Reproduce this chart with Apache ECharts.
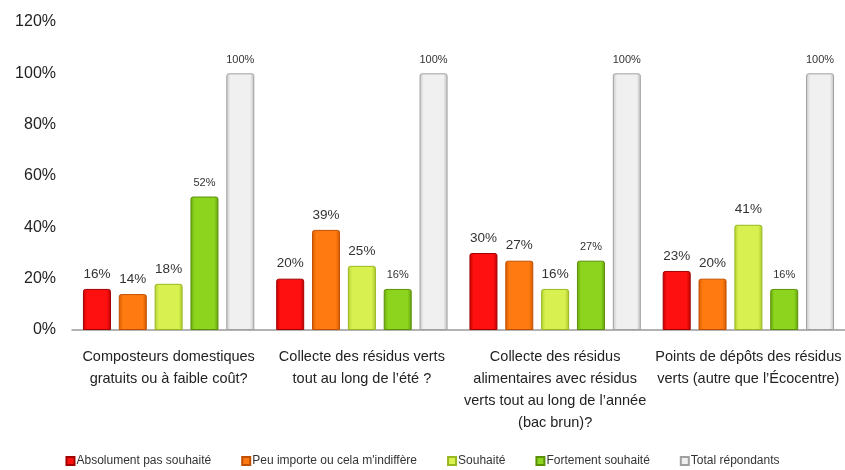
<!DOCTYPE html>
<html>
<head>
<meta charset="utf-8">
<script src="https://cdn.jsdelivr.net/npm/echarts@6/dist/echarts.min.js"></script>
<style>
  html, body { margin: 0; padding: 0; background: #fff; }
  #chart { width: 845px; height: 470px; }
</style>
</head>
<body>
<div id="chart"></div>
<script>
// catégories (questions)
var categories = [
  'Composteurs domestiques\ngratuits ou à faible coût?',
  'Collecte des résidus verts\ntout au long de l\u2019été ?',
  'Collecte des résidus\nalimentaires avec résidus\nverts tout au long de l\u2019année\n(bac brun)?',
  'Points de dépôts des résidus\nverts (autre que l\u2019Écocentre)'
];
var seriesNames = ['Absolument pas souhaité', 'Peu importe ou cela m\'indiffère', 'Souhaité', 'Fortement souhaité', 'Total répondants'];
var absPas = [16, 20, 30, 23];
var peuImporte = [14, 39, 27, 20];
var souhaite = [18, 25, 16, 41];
var fortement = [52, 16, 27, 16];
var total = [100, 100, 100, 100];
var yTicks = [0, 20, 40, 60, 80, 100, 120];

var font = 'Liberation Sans, Arial, sans-serif';

// couleurs : [bord gauche, centre, bord droit, contour]
var colors = [
  ['#c80000', '#ff1010', '#c00000', '#a00000'],
  ['#d85c00', '#ff7a10', '#d05800', '#c05000'],
  ['#b0d030', '#d8f050', '#a8c828', '#98b820'],
  ['#6aa810', '#8cd41e', '#64a00c', '#5a9008'],
  ['#c8c8c8', '#f0f0f0', '#c0c0c0', '#a0a0a0']
];
var values = [absPas, peuImporte, souhaite, fortement, total];
var smallLabel = [false, false, false, true, true];

function barSeries(i) {
  var c = colors[i];
  return {
    name: seriesNames[i],
    type: 'bar',
    data: values[i],
    barWidth: 28,
    barGap: '28%',
    itemStyle: {
      color: new echarts.graphic.LinearGradient(0, 0, 1, 0, [
        { offset: 0, color: c[0] },
        { offset: 0.15, color: c[1] },
        { offset: 0.85, color: c[1] },
        { offset: 1, color: c[2] }
      ]),
      borderColor: c[3],
      borderWidth: 1,
      borderRadius: [2, 2, 0, 0]
    },
    label: {
      show: true,
      position: 'top',
      distance: 8,
      formatter: '{c}%',
      fontFamily: font,
      fontSize: smallLabel[i] ? 11 : 13.5,
      color: '#333'
    }
  };
}

var chart = echarts.init(document.getElementById('chart'));
chart.setOption({
  animation: false,
  backgroundColor: '#fff',
  grid: { left: 72, right: 0, top: 22, bottom: 140, containLabel: false },
  legend: {
    bottom: -2,
    left: 'center',
    itemWidth: 8,
    itemHeight: 8,
    itemGap: 30,
    icon: 'rect',
    textStyle: { fontFamily: font, fontSize: 12, color: '#333', padding: [0, 0, 0, -3] },
    data: seriesNames
  },
  xAxis: {
    type: 'category',
    data: categories,
    axisLine: { lineStyle: { color: '#999', width: 1.5 } },
    axisTick: { show: false },
    axisLabel: {
      interval: 0,
      margin: 16,
      fontFamily: font,
      fontSize: 14.5,
      lineHeight: 22,
      color: '#222'
    }
  },
  yAxis: {
    type: 'value',
    min: yTicks[0],
    max: yTicks[yTicks.length - 1],
    interval: 20,
    splitLine: { show: false },
    axisLine: { show: false },
    axisTick: { show: false },
    axisLabel: {
      formatter: '{value}%',
      fontFamily: font,
      fontSize: 16,
      color: '#222',
      margin: 16
    }
  },
  series: [0, 1, 2, 3, 4].map(barSeries)
});
</script>
</body>
</html>
